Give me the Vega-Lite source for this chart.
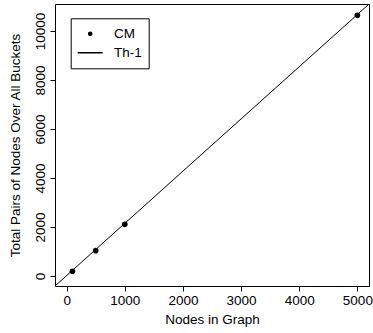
{
  "$schema": "https://vega.github.io/schema/vega-lite/v6.json",
  "width": 314,
  "height": 282,
  "autosize": "none",
  "padding": {"left": 55, "top": 4, "right": 4, "bottom": 47},
  "background": "#ffffff",
  "config": {
    "view": {"stroke": "#000000", "strokeWidth": 1},
    "font": "Liberation Sans",
    "axis": {
      "grid": false,
      "domain": false,
      "tickSize": 5,
      "tickColor": "#000000",
      "tickWidth": 1,
      "labelColor": "#000000",
      "labelFontSize": 13.5,
      "labelFont": "Liberation Sans",
      "titleColor": "#000000",
      "titleFontSize": 13.5,
      "titleFont": "Liberation Sans",
      "titleFontWeight": "normal",
      "labelFlush": false,
      "labelOverlap": false
    }
  },
  "encoding": {
    "x": {
      "field": "x",
      "type": "quantitative",
      "scale": {"domain": [-200, 5200], "nice": false, "zero": false},
      "axis": {
        "title": "Nodes in Graph",
        "values": [0, 1000, 2000, 3000, 4000, 5000],
        "format": "d",
        "labelPadding": 2.5,
        "titlePadding": 5
      }
    },
    "y": {
      "field": "y",
      "type": "quantitative",
      "scale": {"domain": [-408, 11102], "nice": false, "zero": false},
      "axis": {
        "title": "Total Pairs of Nodes Over All Buckets",
        "values": [0, 2000, 4000, 6000, 8000, 10000],
        "format": "d",
        "labelAngle": -90,
        "labelAlign": "center",
        "labelBaseline": "alphabetic",
        "labelPadding": 6,
        "titlePadding": 10.5
      }
    }
  },
  "layer": [
    {
      "data": {"values": [
        {"x": -200, "y": -408, "series": "Th-1"},
        {"x": 5200, "y": 11099, "series": "Th-1"}
      ]},
      "mark": {"type": "line", "color": "#000000", "strokeWidth": 1, "clip": true},
      "encoding": {}
    },
    {
      "data": {"values": [
        {"x": 100, "y": 195, "series": "CM"},
        {"x": 500, "y": 1035, "series": "CM"},
        {"x": 1000, "y": 2110, "series": "CM"},
        {"x": 5000, "y": 10640, "series": "CM"}
      ]},
      "mark": {"type": "point", "filled": true, "color": "#000000", "size": 32, "opacity": 1},
      "encoding": {}
    },
    {
      "data": {"values": []},
      "mark": {"type": "point", "filled": true, "fill": "#000000", "stroke": "#000000", "strokeWidth": 1, "opacity": 1},
      "encoding": {
        "shape": {
          "field": "series",
          "type": "nominal",
          "scale": {"domain": ["CM", "Th-1"], "range": ["circle", "stroke"]},
          "legend": {
            "title": null,
            "orient": "none",
            "legendX": 15.7,
            "legendY": 14.3,
            "strokeColor": "#000000",
            "fillColor": "#ffffff",
            "padding": 6,
            "clipHeight": 19,
            "rowPadding": 0,
            "labelOffset": 10.3,
            "labelFontSize": 13.5,
            "labelFont": "Liberation Sans",
            "labelColor": "#000000",
            "symbolOpacity": 1
          }
        },
        "size": {
          "field": "series",
          "type": "nominal",
          "scale": {"type": "ordinal", "domain": ["CM", "Th-1"], "range": [10, 625]},
          "legend": {
            "title": null,
            "orient": "none",
            "legendX": 15.7,
            "legendY": 14.3,
            "strokeColor": "#000000",
            "fillColor": "#ffffff",
            "padding": 6,
            "clipHeight": 19,
            "rowPadding": 0,
            "labelOffset": 10.3,
            "labelFontSize": 13.5,
            "labelFont": "Liberation Sans",
            "labelColor": "#000000",
            "symbolOpacity": 1
          }
        }
      }
    }
  ]
}
